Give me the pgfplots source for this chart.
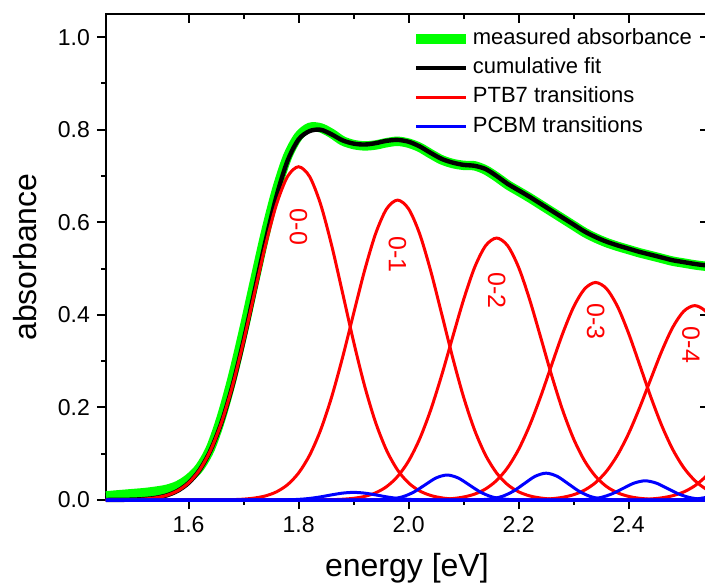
\documentclass[border=0pt]{standalone}
\usepackage{fontspec}
\setmainfont{Liberation Sans}
\usepackage{pgfplots}
\pgfplotsset{compat=1.18}
\definecolor{mgreen}{RGB}{0,255,0}
\begin{document}
\begin{tikzpicture}
\pgfplotsset{
  common/.style={
    scale only axis, width=301.5pt, height=243pt,
    xmin=1.45, xmax=2.546, ymin=0, ymax=1.05,
    xtick={1.6,1.8,2.0,2.2,2.4}, ytick={0,0.2,0.4,0.6,0.8,1.0},
    minor x tick num=1, minor y tick num=1,
    major tick length=4.5pt, minor tick length=2.25pt,
    tick style={black, line width=1pt},
    axis line style={line width=1pt},
  }
}
\begin{axis}[common, xtick pos=right, ytick pos=right, tick align=inside,
  xticklabels={}, yticklabels={}]
\end{axis}
\begin{axis}[common, name=main, xtick pos=left, ytick pos=left, tick align=outside, clip=false,
  /pgf/number format/assume math mode=true,
  /pgf/number format/.cd, fixed, fixed zerofill, precision=1, /pgfplots/.cd,
  tick label style={font=\fontsize{11.5}{13}\selectfont},
  xlabel={energy [eV]},
  xlabel style={font=\fontsize{16}{18}\selectfont, at={(axis description cs:0.499,-0.158)}, anchor=base},
  ylabel={absorbance},
  ylabel style={font=\fontsize{16}{18}\selectfont, at={(axis description cs:-0.134,0.5)}, anchor=center},
  legend image code/.code={\draw[#1] (0pt,0pt) -- (25pt,0pt);},
  legend cell align=left,
  legend style={at={(axis description cs:0.506,0.975)}, anchor=north west, draw=none, fill=none,
    font=\fontsize{11}{13}\selectfont, inner sep=0pt, row sep=2.1pt, column sep=0pt,
    nodes={inner sep=1pt, text height=8pt, text depth=2.5pt}},
]
% measured absorbance
\addplot[mgreen, line width=4.7pt, smooth] coordinates {
(1.45,0.009) (1.48,0.012) (1.50,0.014) (1.52,0.016) (1.54,0.019) (1.56,0.023) (1.58,0.031)
(1.60,0.046) (1.62,0.070) (1.64,0.112) (1.66,0.180) (1.68,0.266) (1.70,0.366) (1.72,0.473)
(1.74,0.578) (1.76,0.670) (1.78,0.742) (1.80,0.786) (1.82,0.805) (1.84,0.804) (1.86,0.792)
(1.88,0.776) (1.90,0.768) (1.92,0.765) (1.94,0.767) (1.96,0.772) (1.98,0.775) (2.00,0.771)
(2.02,0.762) (2.04,0.748) (2.06,0.735) (2.08,0.727) (2.10,0.723) (2.12,0.722) (2.14,0.713)
(2.16,0.698) (2.18,0.681) (2.20,0.667) (2.22,0.653) (2.24,0.638) (2.26,0.623) (2.28,0.608)
(2.30,0.593) (2.32,0.578) (2.34,0.566) (2.36,0.556) (2.38,0.548) (2.40,0.541) (2.42,0.534)
(2.44,0.528) (2.46,0.522) (2.48,0.516) (2.50,0.512) (2.52,0.508) (2.54,0.505) (2.56,0.503)
};
\addlegendentry{measured absorbance}
% cumulative fit
\addplot[black, line width=2.2pt, smooth] coordinates {
(1.45,0.0001) (1.48,0.0004) (1.50,0.0009) (1.52,0.0021) (1.54,0.0047) (1.56,0.0099) (1.58,0.0197)
(1.60,0.0368) (1.62,0.0647) (1.64,0.1074) (1.66,0.1679) (1.68,0.2475) (1.70,0.3442) (1.72,0.4516)
(1.74,0.5598) (1.76,0.6570) (1.78,0.7330) (1.80,0.7790) (1.82,0.7970) (1.84,0.800) (1.86,0.790)
(1.88,0.777) (1.90,0.770) (1.92,0.768) (1.94,0.771) (1.96,0.776) (1.98,0.778) (2.00,0.774)
(2.02,0.764) (2.04,0.750) (2.06,0.737) (2.08,0.729) (2.10,0.724) (2.12,0.722) (2.14,0.715)
(2.16,0.700) (2.18,0.683) (2.20,0.669) (2.22,0.655) (2.24,0.640) (2.26,0.625) (2.28,0.610)
(2.30,0.595) (2.32,0.580) (2.34,0.568) (2.36,0.558) (2.38,0.550) (2.40,0.543) (2.42,0.536)
(2.44,0.530) (2.46,0.524) (2.48,0.518) (2.50,0.514) (2.52,0.510) (2.54,0.507) (2.56,0.505)
};
\addlegendentry{cumulative fit}
% PTB7 0-0
\addplot[red, line width=1.5pt, smooth] coordinates {
(1.45,0.0001) (1.48,0.0004) (1.50,0.0009) (1.52,0.0021) (1.54,0.0047) (1.56,0.0099) (1.58,0.0197)
(1.60,0.0368) (1.62,0.0647) (1.64,0.1073) (1.66,0.1676) (1.68,0.2467) (1.70,0.3423) (1.72,0.4473)
(1.74,0.5509) (1.76,0.6392) (1.78,0.6989) (1.80,0.7200) (1.82,0.6989) (1.84,0.6392) (1.86,0.5509)
(1.88,0.4473) (1.90,0.3423) (1.92,0.2467) (1.94,0.1676) (1.96,0.1073) (1.98,0.0647) (2.00,0.0368)
(2.02,0.0197) (2.04,0.0099) (2.06,0.0047) (2.08,0.0021) (2.10,0.0009) (2.12,0.0004) (2.14,0.0001)
(2.16,0) (2.56,0)
};
\addlegendentry{PTB7 transitions}
% PTB7 0-1
\addplot[red, line width=1.5pt, smooth, forget plot] coordinates {
(1.45,0) (1.62,0) (1.64,0.0001) (1.66,0.0003) (1.68,0.0008) (1.70,0.0019) (1.72,0.0043) (1.74,0.0089)
(1.76,0.0177) (1.78,0.0331) (1.80,0.0583) (1.82,0.0966) (1.84,0.1509) (1.86,0.2221) (1.88,0.3081)
(1.90,0.4026) (1.92,0.4958) (1.94,0.5753) (1.96,0.6290) (1.98,0.6480) (2.00,0.6290) (2.02,0.5753)
(2.04,0.4958) (2.06,0.4026) (2.08,0.3081) (2.10,0.2221) (2.12,0.1509) (2.14,0.0966) (2.16,0.0583)
(2.18,0.0331) (2.20,0.0177) (2.22,0.0089) (2.24,0.0043) (2.26,0.0019) (2.28,0.0008) (2.30,0.0003)
(2.32,0.0001) (2.34,0) (2.56,0)
};
% PTB7 0-2
\addplot[red, line width=1.5pt, smooth, forget plot] coordinates {
(1.45,0) (1.80,0) (1.82,0.0001) (1.84,0.0003) (1.86,0.0007) (1.88,0.0017) (1.90,0.0037) (1.92,0.0078)
(1.94,0.0155) (1.96,0.0289) (1.98,0.0509) (2.00,0.0843) (2.02,0.1318) (2.04,0.1940) (2.06,0.2691)
(2.08,0.3517) (2.10,0.4330) (2.12,0.5025) (2.14,0.5494) (2.16,0.5660) (2.18,0.5494) (2.20,0.5025)
(2.22,0.4330) (2.24,0.3517) (2.26,0.2691) (2.28,0.1940) (2.30,0.1318) (2.32,0.0843) (2.34,0.0509)
(2.36,0.0289) (2.38,0.0155) (2.40,0.0078) (2.42,0.0037) (2.44,0.0017) (2.46,0.0007) (2.48,0.0003)
(2.50,0.0001) (2.52,0) (2.56,0)
};
% PTB7 0-3
\addplot[red, line width=1.5pt, smooth, forget plot] coordinates {
(1.45,0) (1.98,0) (2.00,0.0001) (2.02,0.0002) (2.04,0.0006) (2.06,0.0014) (2.08,0.0031) (2.10,0.0065)
(2.12,0.0128) (2.14,0.0240) (2.16,0.0423) (2.18,0.0700) (2.20,0.1094) (2.22,0.1611) (2.24,0.2234)
(2.26,0.2920) (2.28,0.3596) (2.30,0.4173) (2.32,0.4562) (2.34,0.4700) (2.36,0.4562) (2.38,0.4173)
(2.40,0.3596) (2.42,0.2920) (2.44,0.2234) (2.46,0.1611) (2.48,0.1094) (2.50,0.0700) (2.52,0.0423)
(2.54,0.0240) (2.56,0.0128)
};
% PTB7 0-4
\addplot[red, line width=1.5pt, smooth, forget plot] coordinates {
(1.45,0) (2.16,0) (2.18,0.0001) (2.20,0.0002) (2.22,0.0005) (2.24,0.0012) (2.26,0.0028) (2.28,0.0058)
(2.30,0.0115) (2.32,0.0215) (2.34,0.0378) (2.36,0.0626) (2.38,0.0978) (2.40,0.1439) (2.42,0.1997)
(2.44,0.2609) (2.46,0.3213) (2.48,0.3729) (2.50,0.4077) (2.52,0.4200) (2.54,0.4077) (2.56,0.3729)
};
% PTB7 0-5
\addplot[red, line width=1.5pt, smooth, forget plot] coordinates {
(1.45,0) (2.34,0) (2.36,0.0001) (2.38,0.0002) (2.40,0.0004) (2.42,0.0010) (2.44,0.0022) (2.46,0.0047)
(2.48,0.0093) (2.50,0.0174) (2.52,0.0306) (2.54,0.0507) (2.56,0.0792)
};
% PCBM 1
\addplot[blue, line width=1.5pt, smooth] coordinates {
(1.45,0) (1.74,0) (1.76,0.0001) (1.78,0.0005) (1.80,0.0014) (1.82,0.0034) (1.84,0.0068) (1.86,0.0111)
(1.88,0.0149) (1.90,0.0165) (1.92,0.0149) (1.94,0.0111) (1.96,0.0068) (1.98,0.0034) (2.00,0.0014)
(2.02,0.0005) (2.04,0.0001) (2.06,0) (2.56,0)
};
\addlegendentry{PCBM transitions}
% PCBM 2
\addplot[blue, line width=1.5pt, smooth, forget plot] coordinates {
(1.45,0) (1.91,0) (1.93,0.0001) (1.95,0.0006) (1.97,0.0024) (1.99,0.0073) (2.01,0.0175) (2.03,0.0328)
(2.05,0.0477) (2.07,0.0540) (2.09,0.0477) (2.11,0.0328) (2.13,0.0175) (2.15,0.0073) (2.17,0.0024)
(2.19,0.0006) (2.21,0.0001) (2.23,0) (2.56,0)
};
% PCBM 3
\addplot[blue, line width=1.5pt, smooth, forget plot] coordinates {
(1.45,0) (2.09,0) (2.11,0.0001) (2.13,0.0006) (2.15,0.0025) (2.17,0.0078) (2.19,0.0188) (2.21,0.0352)
(2.23,0.0512) (2.25,0.0580) (2.27,0.0512) (2.29,0.0352) (2.31,0.0188) (2.33,0.0078) (2.35,0.0025)
(2.37,0.0006) (2.39,0.0001) (2.41,0) (2.56,0)
};
% PCBM 4
\addplot[blue, line width=1.5pt, smooth, forget plot] coordinates {
(1.45,0) (2.27,0) (2.29,0.0001) (2.31,0.0005) (2.33,0.0018) (2.35,0.0056) (2.37,0.0135) (2.39,0.0252)
(2.41,0.0366) (2.43,0.0415) (2.45,0.0366) (2.47,0.0252) (2.49,0.0135) (2.51,0.0056) (2.53,0.0018)
(2.55,0.0005) (2.57,0.0001)
};
% PCBM 5
\addplot[blue, line width=1.5pt, smooth, forget plot] coordinates {
(1.45,0) (2.45,0) (2.47,0.0001) (2.49,0.0003) (2.51,0.0011) (2.53,0.0034) (2.55,0.0081) (2.57,0.0152)
};
\begin{scope}[every node/.style={text=red, rotate=-90, font=\fontsize{12.5}{14}\selectfont, inner sep=0pt}]
\node at (axis cs:1.80,0.590) {0-0};
\node at (axis cs:1.98,0.531) {0-1};
\node at (axis cs:2.16,0.452) {0-2};
\node at (axis cs:2.34,0.385) {0-3};
\node at (axis cs:2.513,0.335) {0-4};
\end{scope}
\coordinate (BL) at (rel axis cs:0,0);
\coordinate (TR) at (rel axis cs:1,1);
\end{axis}
\pgfresetboundingbox
\useasboundingbox ([shift={(-53pt,-42.5pt)}]BL) rectangle ([shift={(-2pt,7pt)}]TR);
\end{tikzpicture}
\end{document}
